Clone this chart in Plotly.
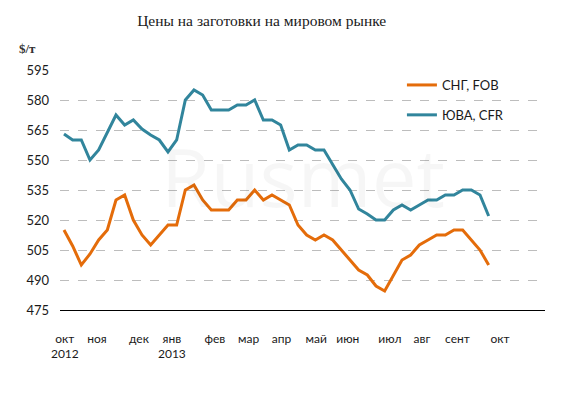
import plotly.graph_objects as go

title = "Цены на заготовки на мировом рынке"
unit_label = "$/т"

week_index = list(range(50))

cis_fob = [515, 507, 497.5, 503, 510, 515, 530, 532.5, 520, 512.5,
           507.5, 512.5, 517.5, 517.5, 535, 537.5, 530, 525, 525, 525,
           530, 530, 535, 530, 532.5, 530, 527.5, 517.5, 512.5, 510,
           512.5, 510, 505, 500, 495, 492.5, 487, 484.5, 492, 500,
           502.5, 507.5, 510, 512.5, 512.5, 515, 515, 510, 505, 497.5]

sea_cfr = [563, 560, 560, 550, 555, 564, 572.5, 567.5, 570, 565.5,
           562.5, 560, 554, 560, 580, 585, 582.5, 575, 575, 575,
           577.5, 577.5, 580, 570, 570, 567.5, 555, 557.5, 557.5, 555,
           555, 547.5, 540.5, 535, 525.5, 523, 520, 520, 525, 527.5,
           525, 527.5, 530, 530, 532.5, 532.5, 535, 535, 532.5, 522]

month_labels = ["окт<br>2012", "ноя", "дек", "янв<br>2013", "фев", "мар", "апр",
                "май", "июн", "июл", "авг", "сент", "окт"]
month_tick_pos = [0.1, 3.8, 8.65, 12.45, 17.4, 21.3, 25.1, 29.1, 32.75, 37.6, 41.3, 45.4, 50.3]

y_ticks = [475, 490, 505, 520, 535, 550, 565, 580, 595]

fig = go.Figure()
fig.add_trace(go.Scatter(x=week_index, y=cis_fob, mode="lines", name="СНГ, FOB",
                         line=dict(color="#E46C0A", width=3), legendgroup="a"))
fig.add_trace(go.Scatter(x=week_index, y=sea_cfr, mode="lines", name="ЮВА, CFR",
                         line=dict(color="#31859C", width=3), legendgroup="b"))

font_main = "Lato, 'Open Sans', sans-serif"

fig.update_layout(
    width=579, height=396,
    paper_bgcolor="white", plot_bgcolor="white",
    margin=dict(l=60, r=34, t=70, b=86),
    title=dict(text=title, x=0.452, xanchor="center", y=0.948, yanchor="middle",
               font=dict(family="Liberation Serif, serif", size=15.5, color="#1a1a1a")),
    showlegend=True,
    legend=dict(x=0.705, xanchor="left", y=1.0, yanchor="top",
                traceorder="grouped", tracegroupgap=10,
                font=dict(family=font_main, size=13, color="#1a1a1a"),
                bgcolor="rgba(0,0,0,0)"),
    xaxis=dict(range=[-0.46, 55.5], showgrid=False, zeroline=False,
               tickmode="array", tickvals=month_tick_pos, ticktext=month_labels,
               ticks="", showline=True, linecolor="black", linewidth=1.3,
               tickfont=dict(family=font_main, size=12, color="#1a1a1a"),
               ticklabelstandoff=17),
    yaxis=dict(range=[475, 595], tickmode="array", tickvals=y_ticks,
               showgrid=True, gridcolor="#bdbdbd", griddash="dash", gridwidth=1,
               zeroline=False, ticks="", showline=False,
               tickfont=dict(family=font_main, size=13, color="#1a1a1a"),
               ticklabelstandoff=10),
    annotations=[
        dict(text="<b>" + unit_label + "</b>", xref="paper", yref="paper",
             x=-0.068, y=1.09, xanchor="center", yanchor="middle", showarrow=False,
             font=dict(family="Liberation Serif, serif", size=13, color="#333333")),
        dict(text="Rusmet", xref="paper", yref="paper", x=0.5, y=0.56,
             xanchor="center", yanchor="middle", showarrow=False,
             font=dict(family="Open Sans, sans-serif", size=80, color="rgba(0,0,0,0.035)")),
    ],
)

fig.write_html("out.html", config={"displayModeBar": False},
               post_script="document.body.style.margin='0px';document.body.style.padding='0px';")
